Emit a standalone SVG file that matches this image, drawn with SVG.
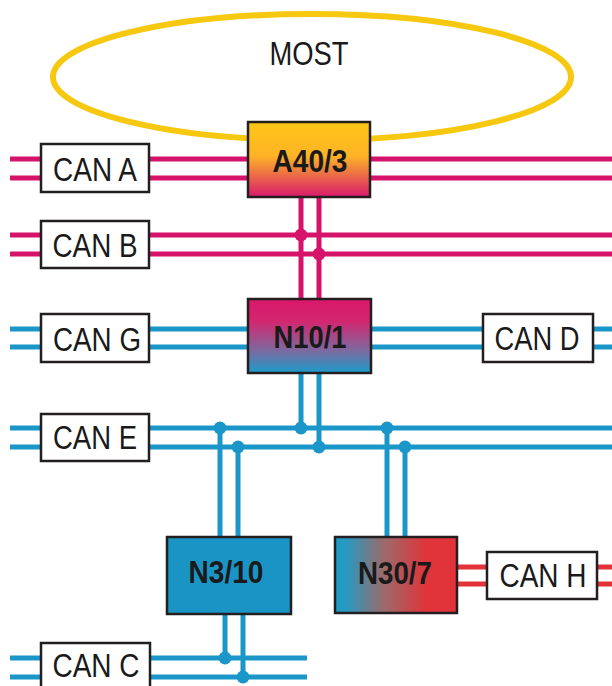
<svg xmlns="http://www.w3.org/2000/svg" width="612" height="686" viewBox="0 0 612 686">
<style>
.pk{stroke:#D6136B;stroke-width:5;fill:none}
.bl{stroke:#1B96C8;stroke-width:5;fill:none}
.rd{stroke:#E2323A;stroke-width:5;fill:none}
.dpk{fill:#D6136B}
.dbl{fill:#1B96C8}
.box{fill:#fff;stroke:#231F20;stroke-width:2.5}
.nb{stroke:#231F20;stroke-width:2.5}
.lbl{font-family:"Liberation Sans",Arial,sans-serif;font-size:33px;fill:#1a1a1a;text-anchor:middle}
.nl{font-family:"Liberation Sans",Arial,sans-serif;font-size:32px;font-weight:bold;fill:#1a1a1a;text-anchor:middle}
</style>
<defs>
<linearGradient id="gA" x1="0" y1="0" x2="0" y2="1">
<stop offset="0" stop-color="#FFC516"/>
<stop offset="0.45" stop-color="#FDB426"/>
<stop offset="1" stop-color="#D81A6C"/>
</linearGradient>
<linearGradient id="gN10" x1="0" y1="0" x2="0" y2="1">
<stop offset="0" stop-color="#DA176A"/>
<stop offset="0.3" stop-color="#D3276F"/>
<stop offset="0.7" stop-color="#7C6AA0"/>
<stop offset="1" stop-color="#1B9CCB"/>
</linearGradient>
<linearGradient id="gN30" x1="0" y1="0" x2="1" y2="0">
<stop offset="0" stop-color="#1A9CC8"/>
<stop offset="0.1" stop-color="#2A98BE"/>
<stop offset="0.4" stop-color="#9C6A6A"/>
<stop offset="0.75" stop-color="#E0343A"/>
<stop offset="1" stop-color="#E2323A"/>
</linearGradient>
</defs>
<ellipse id="most-ring" cx="312" cy="77" rx="259" ry="63" fill="none" stroke="#F6C80F" stroke-width="6"/>
<text class="lbl" x="309" y="65" font-size="31" textLength="79" lengthAdjust="spacingAndGlyphs">MOST</text>
<g id="connectors">
<line class="pk" x1="10" y1="159" x2="612" y2="159"/>
<line class="pk" x1="10" y1="178" x2="612" y2="178"/>
<line class="pk" x1="10" y1="235" x2="612" y2="235"/>
<line class="pk" x1="10" y1="254" x2="612" y2="254"/>
<line class="pk" x1="301" y1="197" x2="301" y2="299"/>
<line class="pk" x1="319" y1="197" x2="319" y2="299"/>
<circle class="dpk" cx="301" cy="235" r="6.5"/>
<circle class="dpk" cx="319" cy="254" r="6.5"/>
<line class="bl" x1="10" y1="329" x2="612" y2="329"/>
<line class="bl" x1="10" y1="347" x2="612" y2="347"/>
<line class="bl" x1="10" y1="428" x2="612" y2="428"/>
<line class="bl" x1="10" y1="447" x2="612" y2="447"/>
<line class="bl" x1="301" y1="373" x2="301" y2="428"/>
<line class="bl" x1="319" y1="373" x2="319" y2="447"/>
<line class="bl" x1="220" y1="428" x2="220" y2="537"/>
<line class="bl" x1="238" y1="447" x2="238" y2="537"/>
<line class="bl" x1="387" y1="428" x2="387" y2="537"/>
<line class="bl" x1="405" y1="447" x2="405" y2="537"/>
<line class="bl" x1="225" y1="614" x2="225" y2="658"/>
<line class="bl" x1="243" y1="614" x2="243" y2="677"/>
<line class="bl" x1="10" y1="658" x2="307" y2="658"/>
<line class="bl" x1="10" y1="677" x2="307" y2="677"/>
<circle class="dbl" cx="220" cy="428" r="6.5"/>
<circle class="dbl" cx="238" cy="447" r="6.5"/>
<circle class="dbl" cx="301" cy="428" r="6.5"/>
<circle class="dbl" cx="319" cy="447" r="6.5"/>
<circle class="dbl" cx="387" cy="428" r="6.5"/>
<circle class="dbl" cx="405" cy="447" r="6.5"/>
<circle class="dbl" cx="225" cy="658" r="6.5"/>
<circle class="dbl" cx="243" cy="677" r="6.5"/>
<line class="rd" x1="457" y1="567" x2="612" y2="567"/>
<line class="rd" x1="457" y1="584" x2="612" y2="584"/>
</g>
<g id="can-a"><rect class="box" x="41" y="144" width="108" height="48"/><text class="lbl" x="95" y="181" textLength="84" lengthAdjust="spacingAndGlyphs">CAN A</text></g>
<g id="can-b"><rect class="box" x="41" y="221" width="108" height="47"/><text class="lbl" x="95" y="257" textLength="85" lengthAdjust="spacingAndGlyphs">CAN B</text></g>
<g id="can-g"><rect class="box" x="41" y="314" width="108" height="48"/><text class="lbl" x="97" y="351" textLength="88" lengthAdjust="spacingAndGlyphs">CAN G</text></g>
<g id="can-d"><rect class="box" x="483" y="314" width="110" height="48"/><text class="lbl" x="537" y="350" textLength="85" lengthAdjust="spacingAndGlyphs">CAN D</text></g>
<g id="can-e"><rect class="box" x="41" y="414" width="108" height="47"/><text class="lbl" x="95" y="449" textLength="84" lengthAdjust="spacingAndGlyphs">CAN E</text></g>
<g id="can-h"><rect class="box" x="487" y="552" width="110" height="47"/><text class="lbl" x="543" y="587" textLength="87" lengthAdjust="spacingAndGlyphs">CAN H</text></g>
<g id="can-c"><rect class="box" x="41" y="643" width="109" height="50"/><text class="lbl" x="96" y="677" textLength="87" lengthAdjust="spacingAndGlyphs">CAN C</text></g>
<g id="a40-3"><rect class="nb" x="248" y="122" width="122" height="75" fill="url(#gA)"/><text class="nl" x="310" y="172" textLength="75" lengthAdjust="spacingAndGlyphs">A40/3</text></g>
<g id="n10-1"><rect class="nb" x="248" y="299" width="123" height="74" fill="url(#gN10)"/><text class="nl" x="310" y="348" textLength="73" lengthAdjust="spacingAndGlyphs">N10/1</text></g>
<g id="n3-10"><rect class="nb" x="167" y="537" width="124" height="77" fill="#1A94C5"/><text class="nl" x="226" y="583" textLength="75" lengthAdjust="spacingAndGlyphs">N3/10</text></g>
<g id="n30-7"><rect class="nb" x="335" y="537" width="122" height="76" fill="url(#gN30)"/><text class="nl" x="395" y="584" textLength="74" lengthAdjust="spacingAndGlyphs">N30/7</text></g>
</svg>
